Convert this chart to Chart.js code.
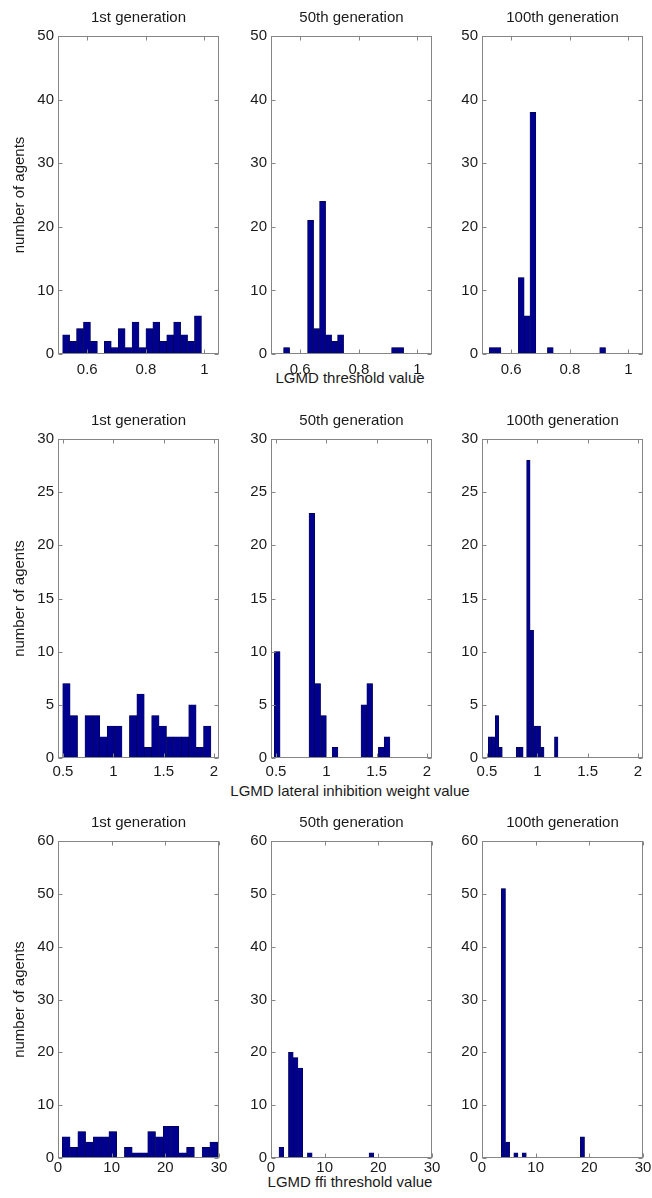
<!DOCTYPE html>
<html>
<head>
<meta charset="utf-8">
<title>LGMD parameter histograms</title>
<script src="https://cdn.jsdelivr.net/npm/chart.js@4.4.0/dist/chart.umd.min.js"></script>
<style>
  body {
    margin: 0;
    width: 652px;
    height: 1198px;
    position: relative;
    overflow: hidden;
    background: #fff;
    font-family: "Liberation Sans", Arial, sans-serif;
  }
  .panel { position: absolute; }
  .xlabel {
    position: absolute;
    font-size: 15px;
    color: #1a1a1a;
    white-space: nowrap;
    transform: translate(-50%, -50%);
  }
</style>
</head>
<body>
<div class="xlabel" style="left:350px; top:377px">LGMD threshold value</div>
<div class="xlabel" style="left:350px; top:790px">LGMD lateral inhibition weight value</div>
<div class="xlabel" style="left:350px; top:1181px">LGMD ffi threshold value</div>

<script>
// generations shown in each row
const genTitles = ['1st generation', '50th generation', '100th generation'];

// LGMD threshold value: counts per bin (20 bins, 60 agents) and data range [min, max]
const thresholdGen1 = [3, 2, 4, 5, 2, 0, 2, 1, 4, 1, 5, 1, 4, 5, 2, 3, 5, 3, 2, 6];
const thresholdGen50 = [1, 0, 0, 0, 21, 4, 24, 3, 2, 3, 0, 0, 0, 0, 0, 0, 0, 0, 1, 1];
const thresholdGen100 = [1, 1, 0, 0, 0, 12, 6, 38, 0, 0, 1, 0, 0, 0, 0, 0, 0, 0, 0, 1];
const thresholdRange1 = [0.516, 0.99];
const thresholdRange50 = [0.543, 0.953];
const thresholdRange100 = [0.525, 0.922];
const thresholdXLim = [0.5, 1.05];
const thresholdXTicks = [0.6, 0.8, 1];
const thresholdYTicks = [0, 10, 20, 30, 40, 50];

// LGMD lateral inhibition weight value
const lateralGen1 = [7, 4, 0, 4, 4, 2, 3, 3, 0, 4, 6, 1, 4, 3, 2, 2, 2, 5, 1, 3];
const lateralGen50 = [10, 0, 0, 0, 0, 0, 23, 7, 4, 0, 1, 0, 0, 0, 0, 5, 7, 0, 1, 2];
const lateralGen100 = [2, 2, 4, 1, 0, 0, 0, 0, 1, 1, 0, 28, 12, 3, 3, 1, 0, 0, 0, 2];
const lateralRange1 = [0.497, 1.97];
const lateralRange50 = [0.483, 1.632];
const lateralRange100 = [0.513, 1.205];
const lateralXLim = [0.45, 2.05];
const lateralXTicks = [0.5, 1, 1.5, 2];
const lateralYTicks = [0, 5, 10, 15, 20, 25, 30];

// LGMD ffi threshold value
const ffiGen1 = [4, 2, 5, 3, 4, 4, 5, 0, 2, 1, 1, 5, 4, 6, 6, 1, 2, 0, 2, 3];
const ffiGen50 = [2, 0, 20, 19, 17, 0, 1, 0, 0, 0, 0, 0, 0, 0, 0, 0, 0, 0, 0, 1];
const ffiGen100 = [51, 3, 0, 1, 0, 1, 0, 0, 0, 0, 0, 0, 0, 0, 0, 0, 0, 0, 0, 4];
const ffiRange1 = [0.8, 29.75];
const ffiRange50 = [1.49, 19.15];
const ffiRange100 = [3.6, 19.1];
const ffiXLim = [0, 30];
const ffiXTicks = [0, 10, 20, 30];
const ffiYTicks = [0, 10, 20, 30, 40, 50, 60];

// page layout (plot box of every panel)
const colLeft = [58, 271, 482];
const plotWidth = 161;
const rowBox = [
    { top: 36, height: 318, tickPad: 7 },
    { top: 439, height: 319, tickPad: 4.5 },
    { top: 841, height: 317, tickPad: 1 },
];
const axisW = 56, titleH = 27, xAxisH = 30, rightPad = 14;
const FONT = '"Liberation Sans", Arial, sans-serif';

const rowsData = [
    { counts: [thresholdGen1, thresholdGen50, thresholdGen100],
      ranges: [thresholdRange1, thresholdRange50, thresholdRange100],
      xLim: thresholdXLim, xTicks: thresholdXTicks, yTicks: thresholdYTicks },
    { counts: [lateralGen1, lateralGen50, lateralGen100],
      ranges: [lateralRange1, lateralRange50, lateralRange100],
      xLim: lateralXLim, xTicks: lateralXTicks, yTicks: lateralYTicks },
    { counts: [ffiGen1, ffiGen50, ffiGen100],
      ranges: [ffiRange1, ffiRange50, ffiRange100],
      xLim: ffiXLim, xTicks: ffiXTicks, yTicks: ffiYTicks },
];

// box around the axes with inward ticks, like matlab
const framePlugin = {
    id: 'frame',
    afterDatasetsDraw(chart) {
        const { ctx, chartArea: a, scales: { x, y } } = chart;
        const l = Math.round(a.left) + 0.5, r = Math.round(a.right) - 0.5;
        const t = Math.round(a.top) + 0.5, b = Math.round(a.bottom) - 0.5;
        ctx.save();
        ctx.strokeStyle = '#858585';
        ctx.lineWidth = 1;
        ctx.strokeRect(l, t, r - l, b - t);
        ctx.beginPath();
        x.ticks.forEach(tk => {
            const px = Math.round(x.getPixelForValue(tk.value)) + 0.5;
            ctx.moveTo(px, b); ctx.lineTo(px, b - 4);
            ctx.moveTo(px, t); ctx.lineTo(px, t + 4);
        });
        y.ticks.forEach(tk => {
            const py = Math.round(y.getPixelForValue(tk.value)) + 0.5;
            ctx.moveTo(l, py); ctx.lineTo(l + 4, py);
            ctx.moveTo(r, py); ctx.lineTo(r - 4, py);
        });
        ctx.stroke();
        ctx.restore();
    }
};

function binPoints(counts, range) {
    const w = (range[1] - range[0]) / counts.length;
    return counts.map((c, i) => ({ x: range[0] + (i + 0.5) * w, y: c }));
}

function makePanel(row, col) {
    const box = rowBox[row];
    const rd = rowsData[row];
    const W = axisW + plotWidth + rightPad;
    const H = titleH + box.height + xAxisH;

    const wrap = document.createElement('div');
    wrap.className = 'panel';
    wrap.style.left = (colLeft[col] - axisW) + 'px';
    wrap.style.top = (box.top - titleH) + 'px';
    const canvas = document.createElement('canvas');
    canvas.width = W;
    canvas.height = H;
    wrap.appendChild(canvas);
    document.body.appendChild(wrap);

    new Chart(canvas, {
        type: 'bar',
        data: {
            datasets: [{
                data: binPoints(rd.counts[col], rd.ranges[col]),
                backgroundColor: '#00008f',
                borderColor: '#000030',
                borderWidth: 0.5,
                borderSkipped: false,
                barPercentage: 1,
                categoryPercentage: 1,
            }]
        },
        options: {
            responsive: false,
            animation: false,
            layout: { padding: { left: 0, right: rightPad, top: 0, bottom: 0 } },
            plugins: {
                legend: { display: false },
                tooltip: { enabled: false },
                title: {
                    display: true,
                    text: genTitles[col],
                    fullSize: false,
                    color: '#1a1a1a',
                    font: { family: FONT, size: 15, weight: 'normal', lineHeight: 1.2 },
                    padding: { top: 0, bottom: 9 },
                }
            },
            scales: {
                x: {
                    type: 'linear',
                    min: rd.xLim[0],
                    max: rd.xLim[1],
                    bounds: 'data',
                    offset: false,
                    grid: { display: false, drawTicks: false },
                    border: { display: false },
                    ticks: {
                        padding: box.tickPad,
                        color: '#1a1a1a',
                        font: { family: FONT, size: 15 },
                        maxRotation: 0,
                        autoSkip: false,
                        callback: v => String(v),
                    },
                    afterBuildTicks: s => { s.ticks = rd.xTicks.map(v => ({ value: v })); },
                    afterFit: s => { s.height = xAxisH; },
                },
                y: {
                    min: 0,
                    max: rd.yTicks[rd.yTicks.length - 1],
                    bounds: 'data',
                    grid: { display: false, drawTicks: false },
                    border: { display: false },
                    ticks: {
                        padding: 4,
                        color: '#1a1a1a',
                        font: { family: FONT, size: 15 },
                        callback: v => String(v),
                    },
                    title: {
                        display: col === 0,
                        text: 'number of agents',
                        color: '#1a1a1a',
                        font: { family: FONT, size: 15 },
                        padding: { top: 8.5, bottom: 0 },
                    },
                    afterBuildTicks: s => { s.ticks = rd.yTicks.map(v => ({ value: v })); },
                    afterFit: s => { s.width = axisW; },
                }
            }
        },
        plugins: [framePlugin]
    });
}

for (let r = 0; r < 3; r++) {
    for (let c = 0; c < 3; c++) {
        makePanel(r, c);
    }
}
</script>
</body>
</html>
